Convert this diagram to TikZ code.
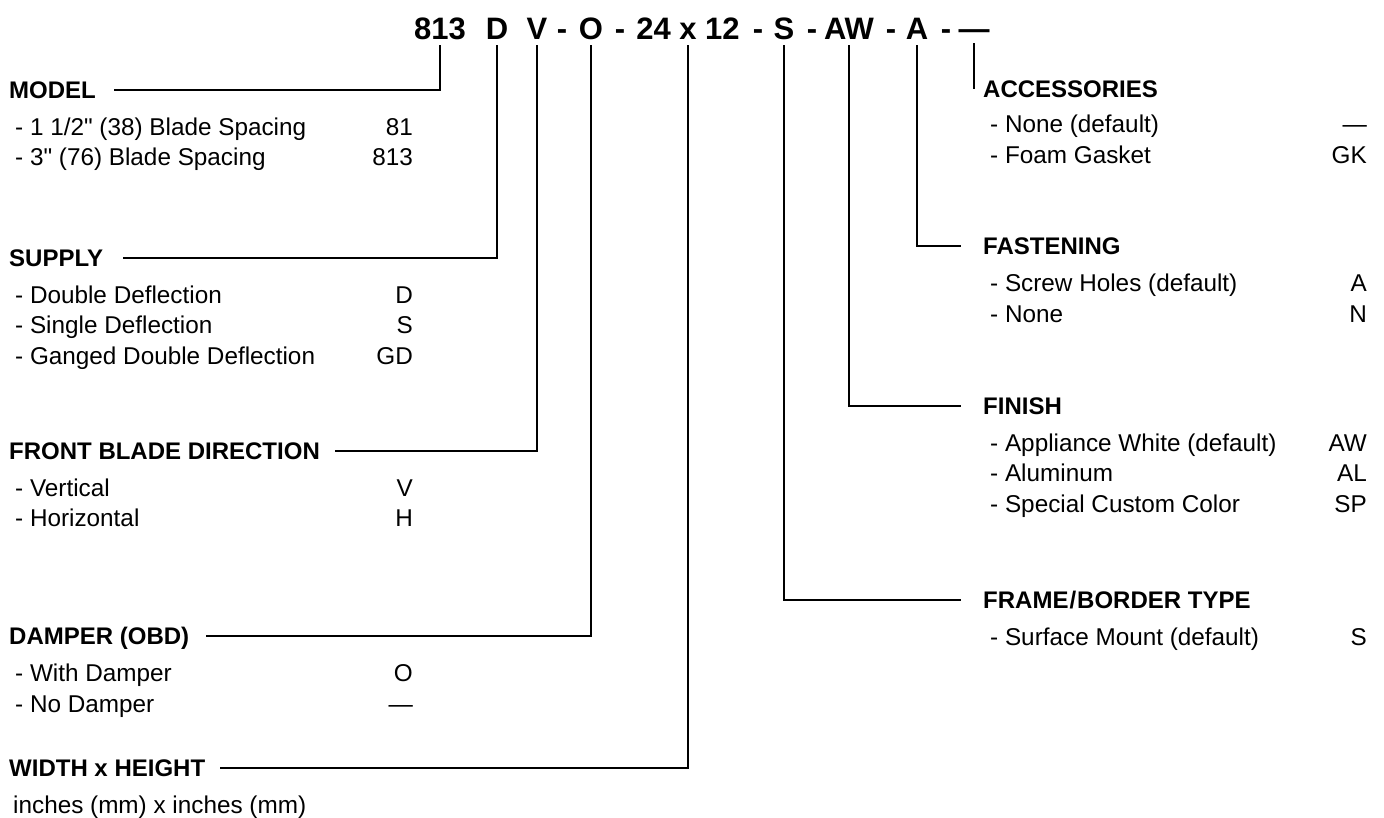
\documentclass[tikz,border=0pt]{standalone}
\usepackage{fontspec}
\setmainfont{Liberation Sans}
\newcommand{\inq}{\XeTeXglyph\XeTeXcharglyph"22\relax}
\begin{document}
\begin{tikzpicture}[x=1pt,y=-1pt,
  hdr/.style={font=\fontsize{24}{24}\selectfont\bfseries, anchor=west, inner sep=0pt, text height=17.2pt, text depth=0pt},
  itm/.style={font=\fontsize{24.3}{24.3}\selectfont, anchor=west, inner sep=0pt, text height=17.4pt, text depth=0pt},
  val/.style={itm, anchor=east},
  code/.style={font=\fontsize{31}{31}\selectfont\bfseries, inner sep=0pt, text height=22pt, text depth=0pt},
  conn/.style={line width=2pt}]
\useasboundingbox (0,0) rectangle (1384,817);

% top code
\node[code] (c813) at (440,28) {813};
\node[code] (cD) at (497,28) {D};
\node[code] (cV) at (537,28) {V};
\node[code] (d1) at (562,28) {-};
\node[code] (cO) at (591,28) {O};
\node[code] (d2) at (620,28) {-};
\node[code] (cWH) at (688,28) {24 x 12};
\node[code] (d3) at (758,28) {-};
\node[code] (cS) at (784,28) {S};
\node[code] (d4) at (812,28) {-};
\node[code] (cAW) at (849,28) {AW};
\node[code] (d5) at (891,28) {-};
\node[code] (cA) at (917,28) {A};
\node[code] (d6) at (946,28) {-};
\node[code] (cAcc) at (974,28) {—};

% left column
\node[hdr] (hModel) at (9,90) {MODEL};
\node[itm] (m1) at (15,127) {- 1 1/2\inq\ (38) Blade Spacing};
\node[val] (m1v) at (413,127) {81};
\node[itm] (m2) at (15,157) {- 3\inq\ (76) Blade Spacing};
\node[val] (m2v) at (413,157) {813};

\node[hdr] (hSupply) at (9,258) {SUPPLY};
\node[itm] (s1) at (15,295) {- Double Deflection};
\node[val] (s1v) at (413,295) {D};
\node[itm] (s2) at (15,325) {- Single Deflection};
\node[val] (s2v) at (413,325) {S};
\node[itm] (s3) at (15,356) {- Ganged Double Deflection};
\node[val] (s3v) at (413,356) {GD};

\node[hdr] (hFront) at (9,451) {FRONT BLADE DIRECTION};
\node[itm] (f1) at (15,488) {- Vertical};
\node[val] (f1v) at (413,488) {V};
\node[itm] (f2) at (15,518) {- Horizontal};
\node[val] (f2v) at (413,518) {H};

\node[hdr] (hDamp) at (9,636) {DAMPER (OBD)};
\node[itm] (dm1) at (15,673) {- With Damper};
\node[val] (dm1v) at (413,673) {O};
\node[itm] (dm2) at (15,704) {- No Damper};
\node[val] (dm2v) at (413,704) {—};

\node[hdr] (hWidth) at (9,768) {WIDTH x HEIGHT};
\node[itm] (w1) at (13,805) {inches (mm) x inches (mm)};

% right column
\node[hdr] (hAcc) at (983,89) {ACCESSORIES};
\node[itm] (a1) at (990,124) {- None (default)};
\node[val] (a1v) at (1367,124) {—};
\node[itm] (a2) at (990,155) {- Foam Gasket};
\node[val] (a2v) at (1367,155) {GK};

\node[hdr] (hFast) at (983,246) {FASTENING};
\node[itm] (fa1) at (990,283) {- Screw Holes (default)};
\node[val] (fa1v) at (1367,283) {A};
\node[itm] (fa2) at (990,314) {- None};
\node[val] (fa2v) at (1367,314) {N};

\node[hdr] (hFin) at (983,406) {FINISH};
\node[itm] (fi1) at (990,443) {- Appliance White (default)};
\node[val] (fi1v) at (1367,443) {AW};
\node[itm] (fi2) at (990,473) {- Aluminum};
\node[val] (fi2v) at (1367,473) {AL};
\node[itm] (fi3) at (990,504) {- Special Custom Color};
\node[val] (fi3v) at (1367,504) {SP};

\node[hdr] (hFrame) at (983,600) {FRAME\kern1pt/\kern1pt BORDER TYPE};
\node[itm] (fr1) at (990,637) {- Surface Mount (default)};
\node[val] (fr1v) at (1367,637) {S};

% connectors
\draw[conn] ([yshift=-6pt]c813.south) |- ([xshift=18pt]hModel.east);
\draw[conn] ([yshift=-6pt]cD.south) |- ([xshift=20pt]hSupply.east);
\draw[conn] ([yshift=-6pt]cV.south) |- ([xshift=15pt]hFront.east);
\draw[conn] ([yshift=-6pt]cO.south) |- ([xshift=17pt]hDamp.east);
\draw[conn] ([yshift=-6pt]cWH.south) |- ([xshift=15pt]hWidth.east);
\draw[conn] ([yshift=-6pt]cS.south) |- ([xshift=-22pt]hFrame.west);
\draw[conn] ([yshift=-6pt]cAW.south) |- ([xshift=-22pt]hFin.west);
\draw[conn] ([yshift=-6pt]cA.south) |- ([xshift=-22pt]hFast.west);
\draw[conn] ([yshift=-4pt]cAcc.south) -- (cAcc.south |- hAcc.center);
\end{tikzpicture}
\end{document}
